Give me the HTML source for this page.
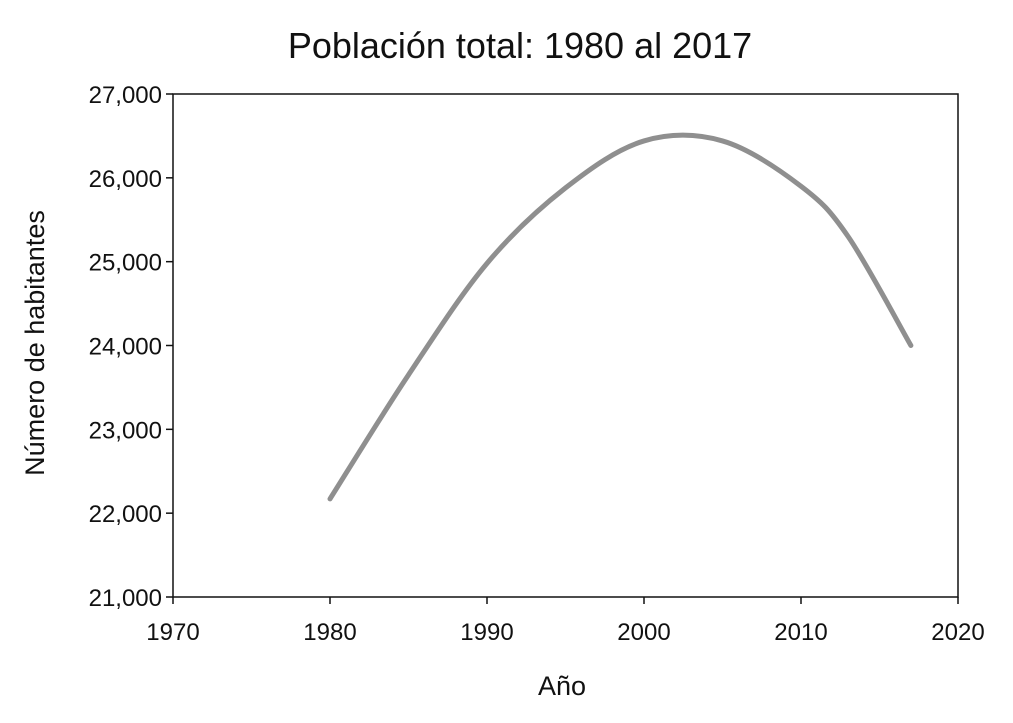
<!DOCTYPE html>
<html><head><meta charset="utf-8"><style>
body{margin:0;background:#fff;}
svg{display:block;font-family:"Liberation Sans",sans-serif;}
</style></head><body>
<svg width="1013" height="723" viewBox="0 0 1013 723">
<rect width="1013" height="723" fill="#fff"/>
<text x="520" y="58" font-size="36" text-anchor="middle" fill="#111">Población total: 1980 al 2017</text>
<text x="562" y="695" font-size="27" text-anchor="middle" fill="#111">Año</text>
<text transform="translate(44,343) rotate(-90)" font-size="27" text-anchor="middle" fill="#111">Número de habitantes</text>
<g id="axes"></g>
<path id="line" fill="none" stroke="#8f8f8f" stroke-width="5" stroke-linecap="round"/>
</svg>
<script>
const years = [1980, 1985, 1990, 1995, 2000, 2005, 2010, 2013, 2017];
const population = [22170, 23650, 24980, 25880, 26440, 26440, 25900, 25300, 24000];
const xTicks = [1970, 1980, 1990, 2000, 2010, 2020];
const yTicks = [21000, 22000, 23000, 24000, 25000, 26000, 27000];
const L=173,R=958,T=94,B=597;
const x=v=>L+(v-1970)/(2020-1970)*(R-L);
const y=v=>B-(v-21000)/(27000-21000)*(B-T);
const NS='http://www.w3.org/2000/svg';
const g=document.getElementById('axes');
function mk(t,a){const e=document.createElementNS(NS,t);for(const k in a)e.setAttribute(k,a[k]);g.appendChild(e);return e;}
const frame=mk('rect',{x:L,y:T,width:R-L,height:B-T,fill:'none',stroke:'#111','stroke-width':1.5});


xTicks.forEach(v=>{
  const t=mk('line',{x1:x(v),x2:x(v),y1:B,y2:B+7,stroke:'#111','stroke-width':1.5});
  
  
  const l=mk('text',{x:x(v),y:B+43,'font-size':24,'text-anchor':'middle',fill:'#111'});
  l.textContent=v;
  
  
});
yTicks.forEach(v=>{
  const t=mk('line',{x1:L-7,x2:L,y1:y(v),y2:y(v),stroke:'#111','stroke-width':1.5});
  
  
  const l=mk('text',{x:L-11,y:y(v)+9,'font-size':24,'text-anchor':'end',fill:'#111'});
  l.textContent=v.toLocaleString('en-US');
  
  
});
const P=years.map((yr,i)=>[x(yr),y(population[i])]);
let d='M'+P[0][0]+','+P[0][1];
for(let i=0;i<P.length-1;i++){
  const p0=P[i-1]||P[i],p1=P[i],p2=P[i+1],p3=P[i+2]||P[i+1];
  const c1=[p1[0]+(p2[0]-p0[0])/6,p1[1]+(p2[1]-p0[1])/6];
  const c2=[p2[0]-(p3[0]-p1[0])/6,p2[1]-(p3[1]-p1[1])/6];
  d+=` C${c1[0]},${c1[1]} ${c2[0]},${c2[1]} ${p2[0]},${p2[1]}`;
}
document.getElementById('line').setAttribute('d',d);
</script>
</body></html>
